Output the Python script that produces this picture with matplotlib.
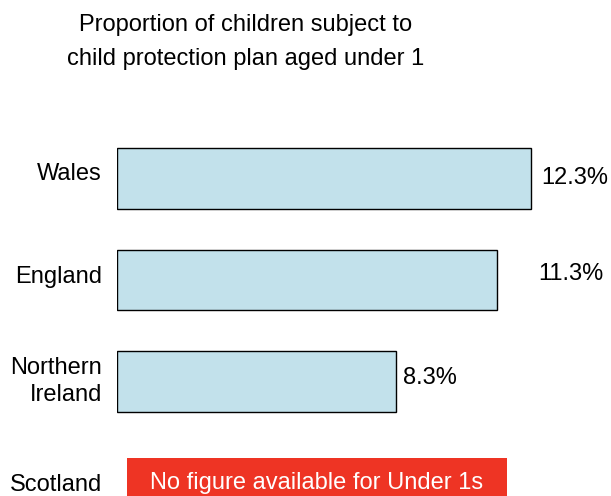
import matplotlib.pyplot as plt
from matplotlib.patches import Rectangle

plt.rcParams['font.family'] = ['Liberation Sans', 'DejaVu Sans']

# share of children on a child protection plan who are aged under 1 (%)
nations = ['Wales', 'England', 'Northern\nIreland']
under1_pct = [12.3, 11.3, 8.3]
missing_nation = 'Scotland'
missing_note = 'No figure available for Under 1s'
title = 'Proportion of children subject to\nchild protection plan aged under 1'

# label x positions (data units) and small vertical nudges
value_label_x = [12.6, 12.5, 8.5]
value_label_dy = [0.0, -0.06, -0.03]
name_dy = [-0.04, -0.03, 0.0]

fig = plt.figure(figsize=(6.11, 4.96), dpi=100)
ax = fig.add_axes([117 / 611, 0, 494 / 611, 368 / 496])
ax.set_xlim(0, 494 / 33.66)
ax.set_ylim(3.128, -0.4975)
ax.axis('off')

fs = 17
ypos = list(range(len(nations)))
ax.barh(ypos, under1_pct, height=0.6, color='#c2e1eb', edgecolor='black',
        linewidth=1.0)

for y, v, lx, ldy, ndy, name in zip(ypos, under1_pct, value_label_x,
                                    value_label_dy, name_dy, nations):
    ax.text(lx, y + ldy, f'{v}%', ha='left', va='center', fontsize=fs)
    ax.text(-0.45, y + ndy, name, ha='right', va='center', fontsize=fs,
            linespacing=1.35)

# Scotland has no figure: red notice box instead of a bar
ax.add_patch(Rectangle((0.3, 2.754), 11.29, 0.6, facecolor='#ee3424',
                       edgecolor='none', clip_on=True))
ax.text(5.94, 3.0, missing_note, ha='center', va='center', color='white',
        fontsize=fs)
ax.text(-0.45, 3.02, missing_nation, ha='right', va='center', fontsize=fs)

fig.text(246 / 611, 1 - 42 / 496, title, ha='center', va='center',
         fontsize=17, linespacing=1.65)

fig.savefig('out.png', dpi=100)
